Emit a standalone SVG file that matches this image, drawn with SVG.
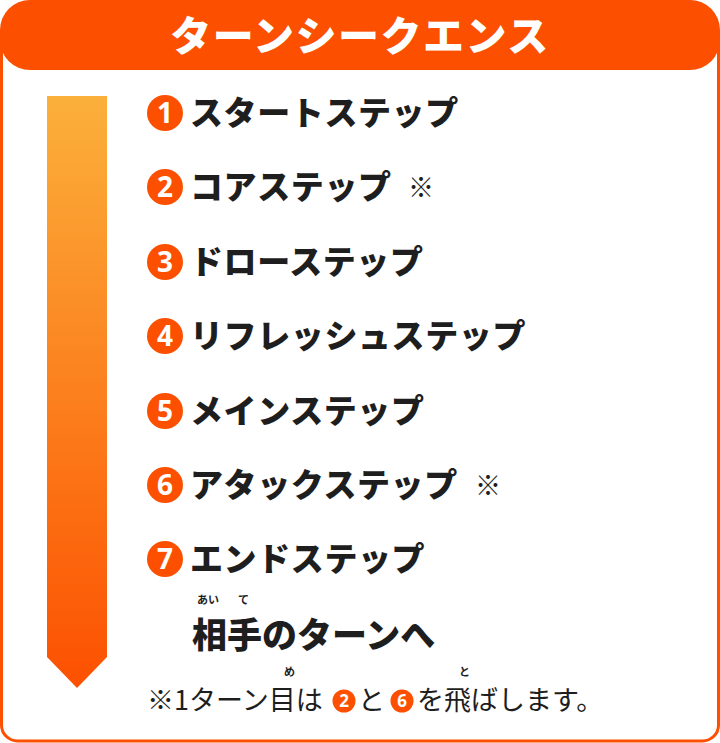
<svg xmlns="http://www.w3.org/2000/svg" width="720" height="743" viewBox="0 0 720 743">
<style>
.step{font-family:"Noto Sans CJK JP","Noto Sans",sans-serif;font-weight:900;font-size:33px;fill:#1e1e1e;letter-spacing:0.6px}
.num{font-family:"Noto Sans","Liberation Sans",sans-serif;font-weight:700;font-size:28px;fill:#fff;text-anchor:middle}
.snum{font-family:"Noto Sans","Liberation Sans",sans-serif;font-weight:700;font-size:17px;fill:#fff;text-anchor:middle}
.note{font-family:"Noto Sans CJK JP","Noto Sans",sans-serif;font-weight:400;font-size:27px;fill:#1e1e1e}
.ruby{font-family:"Noto Sans CJK JP","Noto Sans",sans-serif;font-weight:700;font-size:11px;fill:#1e1e1e}
.mark{font-family:"Noto Sans CJK JP","Noto Sans",sans-serif;font-weight:900;font-size:26px;fill:#1e1e1e}
.dot{fill:#FC5000}
</style>
<defs>
<linearGradient id="ag" x1="0" y1="96" x2="0" y2="689" gradientUnits="userSpaceOnUse">
<stop offset="0" stop-color="#FBB03B"/>
<stop offset="1" stop-color="#FC5000"/>
</linearGradient>
</defs>
<g id="frame">
<path d="M1.5 35 V725 a16 16 0 0 0 16 16 H702.5 a16 16 0 0 0 16 -16 V35" fill="#fff" stroke="#FC5000" stroke-width="3"/>
<rect x="0" y="0" width="720" height="70" rx="30" fill="#FC5000"/>
<text x="360" y="51" text-anchor="middle" style="font-family:'Noto Sans CJK JP','Noto Sans',sans-serif;font-weight:900;font-size:41px;fill:#fff;letter-spacing:1.5px">ターンシークエンス</text>
</g>
<g id="connectors">
<path d="M47 96 H107 V657 L77 688 L47 657 Z" fill="url(#ag)"/>
</g>
<g id="step1"><circle class="dot" cx="165" cy="113" r="18"/><text class="num" x="165" y="123">1</text><text class="step" x="190" y="125">スタートステップ</text></g>
<g id="step2"><circle class="dot" cx="165" cy="187" r="18"/><text class="num" x="165" y="197">2</text><text class="step" x="190" y="199">コアステップ</text><text class="mark" x="408" y="197">※</text></g>
<g id="step3"><circle class="dot" cx="165" cy="262" r="18"/><text class="num" x="165" y="272">3</text><text class="step" x="190" y="274">ドローステップ</text></g>
<g id="step4"><circle class="dot" cx="165" cy="336" r="18"/><text class="num" x="165" y="346">4</text><text class="step" x="190" y="348">リフレッシュステップ</text></g>
<g id="step5"><circle class="dot" cx="165" cy="411" r="18"/><text class="num" x="165" y="421">5</text><text class="step" x="190" y="423">メインステップ</text></g>
<g id="step6"><circle class="dot" cx="165" cy="485" r="18"/><text class="num" x="165" y="495">6</text><text class="step" x="190" y="497">アタックステップ</text><text class="mark" x="475" y="495">※</text></g>
<g id="step7"><circle class="dot" cx="165" cy="559" r="18"/><text class="num" x="165" y="569">7</text><text class="step" x="190" y="571">エンドステップ</text></g>
<g id="next">
<text class="ruby" x="197" y="604">あい</text><text class="ruby" x="238" y="604">て</text>
<text class="step" x="192" y="648" style="font-size:35px;letter-spacing:0">相手のターンへ</text>
</g>
<g id="note">
<text class="note" x="147" y="710">※1ターン目は</text>
<text class="ruby" x="284" y="676">め</text>
<circle class="dot" cx="344" cy="701" r="11.5"/><text class="snum" x="344" y="707">2</text>
<text class="note" x="358" y="710">と</text>
<circle class="dot" cx="402" cy="701" r="11.5"/><text class="snum" x="402" y="707">6</text>
<text class="ruby" x="459" y="676">と</text>
<text class="note" x="417" y="710">を飛ばします。</text>
</g>
</svg>
